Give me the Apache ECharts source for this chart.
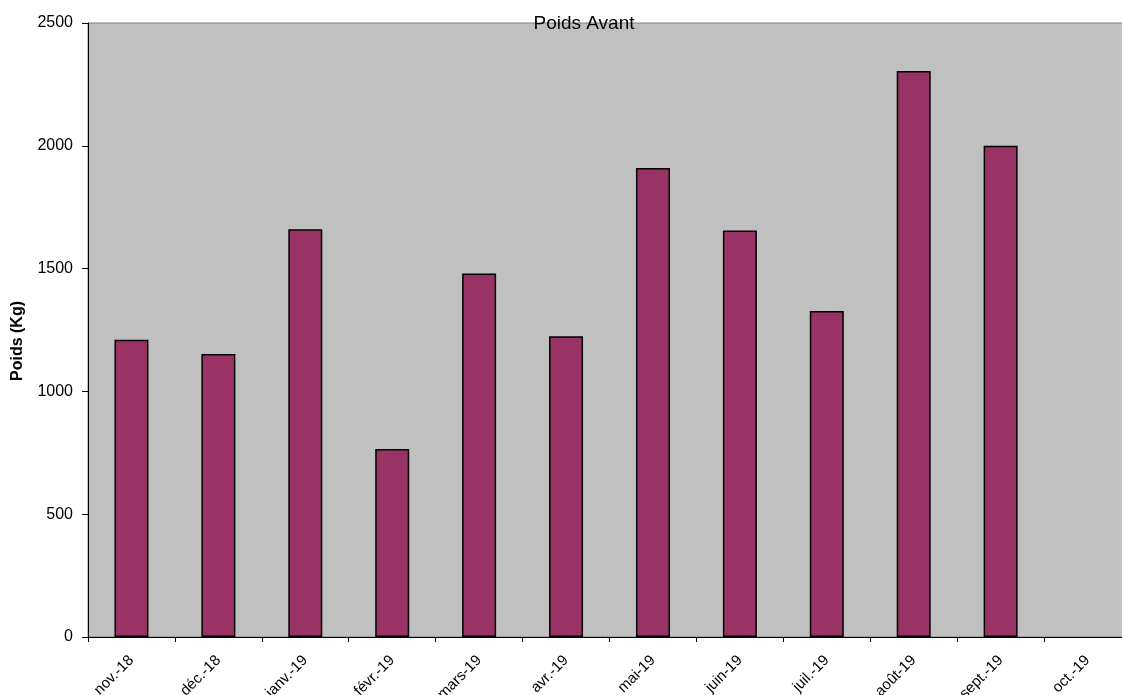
<!DOCTYPE html>
<html>
<head>
<meta charset="utf-8">
<script src="https://cdn.jsdelivr.net/npm/echarts@6/dist/echarts.min.js"></script>
<style>
  html, body { margin: 0; padding: 0; background: #fff; }
  #chart { width: 1122px; height: 695px; }
</style>
</head>
<body>
<div id="chart"></div>
<script>
// mois et poids (kg)
const months = ["nov.-18", "déc.-18", "janv.-19", "févr.-19", "mars-19", "avr.-19",
  "mai-19", "juin-19", "juil.-19", "août-19", "sept.-19", "oct.-19"];
const poidsAvant = [1210, 1152, 1660, 765, 1480, 1225, 1910, 1655, 1327, 2305, 2000, null];
const yTicks = [0, 500, 1000, 1500, 2000, 2500];

const chart = echarts.init(document.getElementById("chart"));
const font = "Liberation Sans, Arial, sans-serif";

const option = {
  animation: false,
  title: {
    text: "Poids Avant",
    left: 579,
    top: 9,
    textAlign: "center",
    textStyle: { fontFamily: font, fontSize: 19, fontWeight: "normal", color: "#000" },
  },
  graphic: [
    {
      type: "text",
      x: 18,
      y: 381,
      rotation: Math.PI / 2,
      style: {
        text: "Poids (Kg)",
        fontFamily: font,
        fontSize: 16,
        fontWeight: "bold",
        fill: "#000",
        align: "left",
        verticalAlign: "middle",
      },
    },
  ],
  grid: {
    left: 88,
    top: 23,
    right: -9,
    bottom: 58,
    outerBoundsMode: "none",
    containLabel: false,
    show: true,
    backgroundColor: "#c0c0c0",
    borderColor: "#808080",
    borderWidth: 1,
  },
  xAxis: {
    type: "category",
    data: months,
    axisLine: { lineStyle: { color: "#000", width: 1 } },
    axisTick: { show: true, length: 5, lineStyle: { color: "#000" } },
    axisLabel: {
      rotate: 45,
      interval: 0,
      margin: 21,
      fontFamily: font,
      fontSize: 15,
      color: "#000",
    },
  },
  yAxis: {
    type: "value",
    min: yTicks[0],
    max: yTicks[yTicks.length - 1],
    interval: 500,
    splitLine: { show: false },
    axisLine: { show: true, lineStyle: { color: "#000", width: 1 } },
    axisTick: { show: true, length: 6, lineStyle: { color: "#000" } },
    axisLabel: {
      fontFamily: font,
      fontSize: 16,
      color: "#000",
      margin: 15,
      formatter: (v) => String(v),
    },
  },
  series: [
    {
      type: "bar",
      data: poidsAvant,
      barWidth: 34,
      itemStyle: { color: "#993366", borderColor: "#000", borderWidth: 1.5 },
    },
  ],
};
chart.setOption(option);
</script>
</body>
</html>
